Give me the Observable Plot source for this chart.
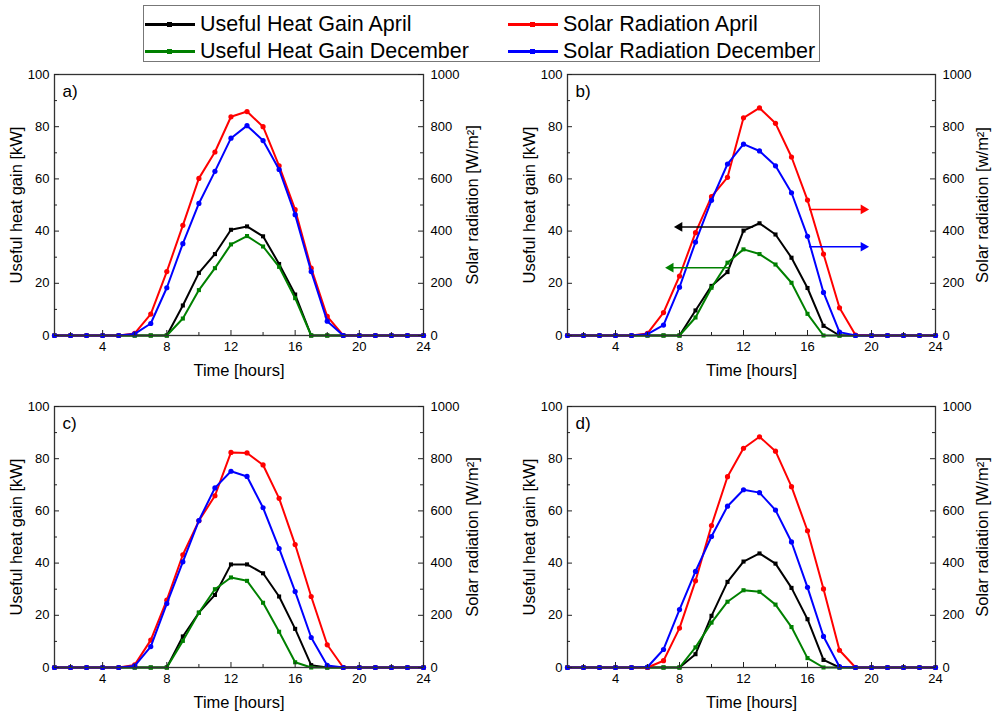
<!DOCTYPE html>
<html>
<head>
<meta charset="utf-8">
<script src="https://cdn.jsdelivr.net/npm/d3@7"></script>
<script src="https://cdn.jsdelivr.net/npm/@observablehq/plot@0.6"></script>
<style>
  html, body { margin: 0; padding: 0; background: #fff; }
  #root { position: relative; width: 992px; height: 714px; font-family: "Liberation Sans", Arial, sans-serif; }
  .panel { position: absolute; }
  #legend { position: absolute; left: 143px; top: 5px; width: 677px; height: 57px; border: 1px solid #777; box-sizing: border-box; font-size: 21.5px; color: #000; }
  .item { position: absolute; height: 26px; display: flex; align-items: center; white-space: nowrap; }
  .swatch { position: relative; width: 50px; height: 3px; margin-right: 5px; }
  .swatch i { position: absolute; left: 22px; top: -1px; width: 5px; height: 5px; }
</style>
</head>
<body>
<div id="root">
  <div id="legend"></div>
  <div class="panel" id="pa" style="left:0px;top:60px"></div>
  <div class="panel" id="pb" style="left:496px;top:60px"></div>
  <div class="panel" id="pc" style="left:0px;top:392px"></div>
  <div class="panel" id="pd" style="left:496px;top:392px"></div>
</div>
<script>
// ---------- data ----------
const hours = [1,2,3,4,5,6,7,8,9,10,11,12,13,14,15,16,17,18,19,20,21,22,23,24];

const seriesNames = ["Useful Heat Gain April", "Useful Heat Gain December", "Solar Radiation April", "Solar Radiation December"];
const seriesColors = ["#000000", "#008000", "#ff0000", "#0000ff"];

const xMajor = [4, 8, 12, 16, 20, 24];
const xMinor = [2, 6, 10, 14, 18, 22];
const yMajor = [0, 20, 40, 60, 80, 100];
const yMinor = [10, 30, 50, 70, 90];

// panel a  (heat gain kW, solar W/m2)
const aHeatApr = [0,0,0,0,0,0,0,0,11.5,24,31.2,40.5,41.8,38,27.4,15.7,0,0,0,0,0,0,0,0];
const aHeatDec = [0,0,0,0,0,0,0,0,6.5,17.4,25.8,34.9,38.1,34.1,26.3,14.3,0,0,0,0,0,0,0,0];
const aSolApr  = [0,0,0,0,0,8,82,245,422,602,703,838,858,800,650,482,258,73,0,0,0,0,0,0];
const aSolDec  = [0,0,0,0,0,6,46,183,352,506,629,756,804,747,636,463,245,55,0,0,0,0,0,0];

// panel b
const bHeatApr = [0,0,0,0,0,0,0,0,9.6,19,24.3,40.2,43,38.7,29.8,18.2,3.7,0,0,0,0,0,0,0];
const bHeatDec = [0,0,0,0,0,0,0,0,6.9,18.3,27.9,33,31.2,27.2,20.2,8.3,0,0,0,0,0,0,0,0];
const bSolApr  = [0,0,0,0,0,8,88,228,394,532,606,834,872,813,684,519,312,106,2,0,0,0,0,0];
const bSolDec  = [0,0,0,0,0,5,40,185,358,518,657,733,707,650,547,380,165,13,0,0,0,0,0,0];

// panel c
const cHeatApr = [0,0,0,0,0,0,0,0,11.9,21,27.8,39.5,39.5,36.1,27.2,14.8,0.9,0,0,0,0,0,0,0];
const cHeatDec = [0,0,0,0,0,0,0,0,10.2,21,30,34.5,33.2,24.8,13.7,2,0,0,0,0,0,0,0,0];
const cSolApr  = [0,0,0,0,0,10,105,258,432,562,658,824,822,776,648,471,272,87,0,0,0,0,0,0];
const cSolDec  = [0,0,0,0,0,6,80,245,405,563,688,752,732,612,456,291,115,8,0,0,0,0,0,0];

// panel d
const dHeatApr = [0,0,0,0,0,0,0,0,5.1,19.8,32.8,40.6,43.7,39.8,30.5,18.5,2.9,0,0,0,0,0,0,0];
const dHeatDec = [0,0,0,0,0,0,0,0,7.7,17.2,25.2,29.6,29,24.1,15.5,3.6,0,0,0,0,0,0,0,0];
const dSolApr  = [0,0,0,0,0,0,26,151,332,544,731,840,884,829,693,524,301,66,0,0,0,0,0,0];
const dSolDec  = [0,0,0,0,0,2,69,222,368,502,618,681,670,603,481,307,119,3,0,0,0,0,0,0];

// panel b annotation arrows (hours, left-axis kW level)
const arrowFrom  = [12.6, 11.15, 16.1, 16.1];
const arrowTo    = [8.0, 7.45, 19.5, 19.5];
const arrowLevel = [41.6, 26.0, 48.3, 34.0];
const arrowColor = ["#000000", "#008000", "#ff0000", "#0000ff"];

const panelLabels = ["a)", "b)", "c)", "d)"];
const leftTitle = "Useful heat gain [kW]";
const rightTitles = ["Solar radiation [W/m²]", "Solar radiation [w/m²]", "Solar radiation [W/m²]", "Solar radiation [W/m²]"];
const xTitle = "Time [hours]";

// ---------- legend ----------
const legend = document.getElementById("legend");
const legendPos = [[1, 5], [1, 32], [364, 5], [364, 32]];
seriesNames.forEach((name, i) => {
  const it = document.createElement("div");
  it.className = "item";
  it.style.left = legendPos[i][0] + "px";
  it.style.top = legendPos[i][1] + "px";
  it.innerHTML = `<span class="swatch" style="background:${seriesColors[i]}"><i style="background:${seriesColors[i]}"></i></span><span>${name}</span>`;
  legend.appendChild(it);
});

// ---------- panels ----------
function panel(el, heat1, heat2, sol1, sol2, idx, m, withArrows) {
  const width = 496, height = m.height;
  const W = width - m.left - m.right;
  const H = height - m.top - m.bottom;
  const rows = (vals, k) => hours.map((h, i) => ({hour: h, y: k >= 2 ? vals[i] / 10 : vals[i]}));
  const sets = [rows(heat1, 0), rows(heat2, 1), rows(sol1, 2), rows(sol2, 3)];
  const marks = [];
  sets.forEach((d, k) => {
    marks.push(Plot.line(d, {x: "hour", y: "y", stroke: seriesColors[k], strokeWidth: 2}));
    marks.push(Plot.dot(d, {x: "hour", y: "y", fill: seriesColors[k], stroke: "none", r: k >= 2 ? 2.6 : 2.3, symbol: k >= 2 ? "circle" : "square"}));
  });
  if (withArrows) {
    arrowFrom.forEach((f, i) => {
      const dir = arrowTo[i] < arrowFrom[i] ? -90 : 90;
      marks.push(Plot.link([i], {x1: () => arrowFrom[i], x2: () => arrowTo[i], y1: () => arrowLevel[i], y2: () => arrowLevel[i], stroke: arrowColor[i], strokeWidth: 1.5}));
      marks.push(Plot.dot([i], {x: () => arrowTo[i], y: () => arrowLevel[i], symbol: "triangle", rotate: dir, r: 3.6, fill: arrowColor[i], stroke: "none"}));
    });
  }
  const tickStroke = "#222";
  marks.push(
    Plot.frame({stroke: "#333", strokeWidth: 1.3}),
    Plot.tickY(yMajor, {y: d => d, insetRight: W - 5, stroke: tickStroke}),
    Plot.tickY(yMinor, {y: d => d, insetRight: W - 3, stroke: tickStroke}),
    Plot.tickY(yMajor, {y: d => d, insetLeft: W - 5, stroke: tickStroke}),
    Plot.tickY(yMinor, {y: d => d, insetLeft: W - 3, stroke: tickStroke}),
    Plot.tickX(xMajor, {x: d => d, insetTop: H - 5, stroke: tickStroke}),
    Plot.tickX(xMinor, {x: d => d, insetTop: H - 3, stroke: tickStroke}),
    Plot.axisY(yMajor, {anchor: "left", tickSize: 0, tickPadding: 5, label: null}),
    Plot.axisY(yMajor, {anchor: "right", tickSize: 0, tickPadding: 7, label: null, tickFormat: d => String(d * 10)}),
    Plot.axisX(xMajor, {anchor: "bottom", tickSize: 0, tickPadding: 6, label: null}),
    Plot.text([leftTitle], {text: d => d, frameAnchor: "left", textAnchor: "middle", lineAnchor: "middle", rotate: -90, dx: m.ldx, fontSize: 16.5}),
    Plot.text([rightTitles[idx]], {text: d => d, frameAnchor: "right", textAnchor: "middle", lineAnchor: "middle", rotate: -90, dx: m.rdx, fontSize: 16.5}),
    Plot.text([xTitle], {text: d => d, frameAnchor: "bottom", dy: 35, lineAnchor: "middle", fontSize: 16.5}),
    Plot.text([panelLabels[idx]], {text: d => d, frameAnchor: "top-left", dx: 8, dy: 17, textAnchor: "start", lineAnchor: "middle", fontSize: 17})
  );
  const chart = Plot.plot({
    width, height,
    marginLeft: m.left, marginRight: m.right, marginTop: m.top, marginBottom: m.bottom,
    x: {domain: [1, 24]},
    y: {domain: [0, 100]},
    style: {fontFamily: "'Liberation Sans', Arial, sans-serif", fontSize: "13px", color: "#000", background: "transparent", overflow: "visible"},
    marks
  });
  document.getElementById(el).appendChild(chart);
}

const mLeftCol  = {left: 54, right: 73, ldx: -38, rdx: 49};
const mRightCol = {left: 71, right: 57, ldx: -38, rdx: 47};
panel("pa", aHeatApr, aHeatDec, aSolApr, aSolDec, 0, {...mLeftCol, top: 14, bottom: 55, height: 330}, false);
panel("pb", bHeatApr, bHeatDec, bSolApr, bSolDec, 1, {...mRightCol, top: 14, bottom: 55, height: 330}, true);
panel("pc", cHeatApr, cHeatDec, cSolApr, cSolDec, 2, {...mLeftCol, top: 14, bottom: 47, height: 322}, false);
panel("pd", dHeatApr, dHeatDec, dSolApr, dSolDec, 3, {...mRightCol, top: 14, bottom: 47, height: 322}, false);
</script>
</body>
</html>
